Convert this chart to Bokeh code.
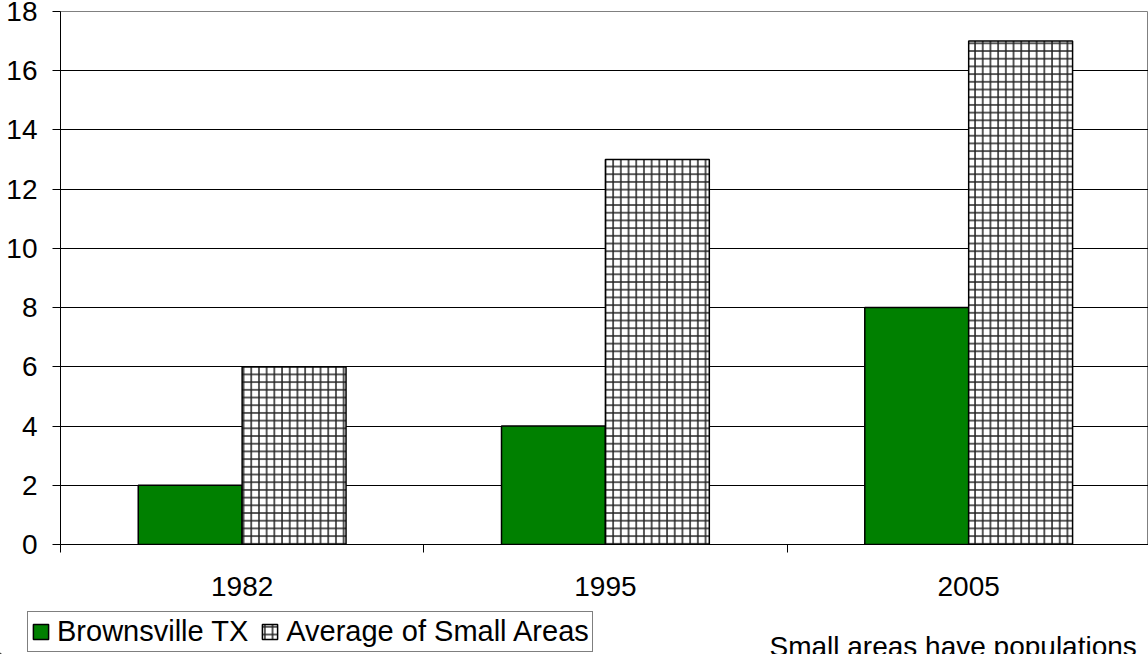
import numpy as np
from bokeh.plotting import figure
from bokeh.layouts import column
from bokeh.models import Range1d, FixedTicker, Legend, LegendItem, Label, ColumnDataSource
from bokeh.embed import file_html
from bokeh.resources import INLINE

years = ["1982", "1995", "2005"]
brownsville = [2, 4, 8]
small_areas = [6, 13, 17]
series_names = ["Brownsville TX", "Average of Small Areas"]
y_ticks = [0, 2, 4, 6, 8, 10, 12, 14, 16, 18]
note_text = "Small areas have populations"

FONT = "Liberation Sans"
FS = "28px"
LFS = "29px"

GREEN = dict(fill_color="#008000", line_color="black", line_width=1.5)
HATCH = dict(fill_color="white", line_color="black", line_width=1.5,
             hatch_pattern="+", hatch_scale=7.7, hatch_weight=1.5, hatch_color="#222222")

p = figure(width=1148, height=606, output_backend="svg", toolbar_location=None,
           x_range=Range1d(0, 2.995), y_range=Range1d(0, 18),
           min_border_left=60, min_border_right=0, min_border_top=11, min_border_bottom=62)
p.frame_align = False
p.outline_line_color = "#808080"
p.background_fill_color = "white"
p.border_fill_color = "white"

centers = np.arange(len(years)) + 0.5
bw = 0.286
r1 = p.vbar(x=centers - bw / 2, top=brownsville, width=bw, bottom=0, **GREEN)
r2 = p.vbar(x=centers + bw / 2, top=small_areas, width=bw, bottom=0, **HATCH)

# x axis
p.xaxis.ticker = FixedTicker(ticks=list(centers), minor_ticks=list(range(len(years) + 1)))
p.xaxis.major_label_overrides = {float(c): y for c, y in zip(centers, years)}
p.xaxis.major_tick_out = 0
p.xaxis.major_tick_in = 0
p.xaxis.minor_tick_out = 8
p.xaxis.minor_tick_in = 0
p.xaxis.minor_tick_line_color = "black"
p.xaxis.axis_line_color = "black"
p.xaxis.major_label_standoff = 24
p.xaxis.major_label_text_font = FONT
p.xaxis.major_label_text_font_size = FS
p.xaxis.major_label_text_color = "black"
p.xgrid.visible = False

# y axis
p.yaxis.ticker = FixedTicker(ticks=y_ticks)
p.yaxis.major_tick_out = 8
p.yaxis.major_tick_in = 0
p.yaxis.minor_tick_line_color = None
p.yaxis.axis_line_color = "black"
p.yaxis.major_tick_line_color = "black"
p.yaxis.major_label_standoff = 15
p.yaxis.major_label_text_font = FONT
p.yaxis.major_label_text_font_size = FS
p.yaxis.major_label_text_color = "black"
p.ygrid.ticker = FixedTicker(ticks=y_ticks[:-1])
p.ygrid.grid_line_color = "black"
p.ygrid.grid_line_width = 1

# bottom strip with legend and note
q = figure(width=1148, height=48, output_backend="svg", toolbar_location=None,
           x_range=Range1d(0, 1148), y_range=Range1d(0, 48),
           x_axis_location=None, y_axis_location=None,
           min_border_left=0, min_border_right=0, min_border_top=0, min_border_bottom=0)
q.frame_align = False
q.grid.visible = False
q.outline_line_color = None
q.border_fill_color = "white"
q.background_fill_color = "white"
# legend-only swatches, placed outside the visible range
dummy = ColumnDataSource(dict(x=[-5000], top=[1]))
l1 = q.vbar(x="x", top="top", width=1, source=dummy, **GREEN)
l2 = q.vbar(x="x", top="top", width=1, source=dummy, **HATCH)

legend = Legend(items=[LegendItem(label=series_names[0], renderers=[l1]),
                       LegendItem(label=series_names[1], renderers=[l2])],
                orientation="horizontal", location=(27, 2),
                border_line_color="black", border_line_width=1,
                background_fill_color="white", background_fill_alpha=1,
                glyph_width=19, glyph_height=19, label_standoff=7, spacing=12,
                padding=3, margin=0, label_text_font=FONT, label_text_font_size=LFS,
                label_text_color="black", label_height=19)
q.add_layout(legend, "center")

note = Label(x=769, y=24, x_units="screen", y_units="screen", text=note_text,
             text_font=FONT, text_font_size=FS, text_color="black", text_baseline="top")
q.add_layout(note)

open("out.html", "w").write(file_html(column(p, q, spacing=0), INLINE))
